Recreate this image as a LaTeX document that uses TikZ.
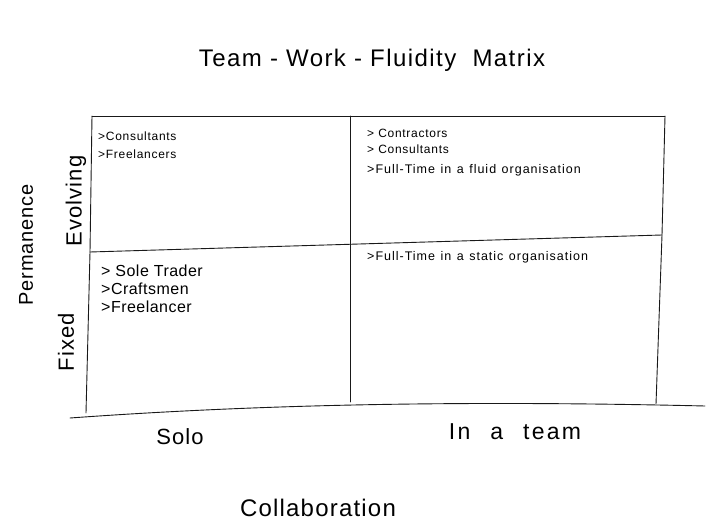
\documentclass[tikz,border=0pt]{standalone}
\usepackage{fontspec}
\setmainfont{Liberation Sans}
\newcommand\widecellfont{\fontsize{12.5}{16}\selectfont\addfontfeature{LetterSpace=8}\spaceskip 5.5pt plus 1pt\relax}
\newcommand\teamfont{\fontsize{23}{26}\selectfont\addfontfeature{LetterSpace=10}\spaceskip 20pt plus 1pt\relax}
\begin{document}
\begin{tikzpicture}[x=1pt,y=-1pt,
  pen/.style={line width=0.9pt,black!90,line cap=round},
  cell/.style={anchor=west,align=left,inner sep=0pt,font=\fontsize{12}{16}\selectfont\addfontfeature{LetterSpace=6}},
  cellwide/.style={cell,font=\widecellfont},
  cellbig/.style={anchor=west,align=left,inner sep=0pt,font=\fontsize{16}{18}\selectfont\addfontfeature{LetterSpace=3}},
  axis/.style={inner sep=0pt,font=\fontsize{22}{26}\selectfont\addfontfeature{LetterSpace=5}}]
\path[use as bounding box,fill=white] (0,0) rectangle (712,529);
% frame
\coordinate (tl) at (92,116);
\coordinate (tr) at (665,116);
\coordinate (ml) at (90,252);
\coordinate (mr) at (662,235);
\coordinate (bl) at (86,413);
\coordinate (br) at (656,404);
\draw[pen] (tl) -- (tr);
\draw[pen] (tl) -- (ml) -- (bl);
\draw[pen] (tr) -- (mr) -- (br);
\draw[pen] (ml) -- (mr);
\draw[pen] (350,116) -- (350,402);
\draw[pen] (70,418) .. controls (250,405) and (450,400) .. (705,406);
% title
\node[inner sep=0pt,font=\fontsize{24}{28}\selectfont\addfontfeature{LetterSpace=6}] (title) at (372,60) {Team - Work - Fluidity \ Matrix};
% cells
\node[cell] (c1a) at (98,136) {>Consultants};
\node[cell] (c1b) at (98,154) {>Freelancers};
\node[cell] (c2a) at (367,133) {> Contractors};
\node[cell] (c2b) at (367,149) {> Consultants};
\node[cellwide] (c2c) at (367,170) {>Full-Time in a fluid organisation};
\node[cellbig] (c3a) at (101,271) {> Sole Trader};
\node[cellbig] (c3b) at (101,289) {>Craftsmen};
\node[cellbig] (c3c) at (101,307) {>Freelancer};
\node[cellwide] (c4) at (367,257) {>Full-Time in a static organisation};
% axis labels
\node[axis,rotate=90] (evo) at (76,201) {Evolving};
\node[axis,rotate=90,font=\fontsize{20}{24}\selectfont\addfontfeature{LetterSpace=4}] (perm) at (26,245) {Permanence};
\node[axis,rotate=90] (fix) at (66,342) {Fixed};
\node[axis] (solo) at (180,437) {Solo};
\node[axis,font=\teamfont] (team) at (515,432) {In a team};
\node[axis,font=\fontsize{24}{26}\selectfont\addfontfeature{LetterSpace=5}] (coll) at (318,508) {Collaboration};
\end{tikzpicture}
\end{document}
